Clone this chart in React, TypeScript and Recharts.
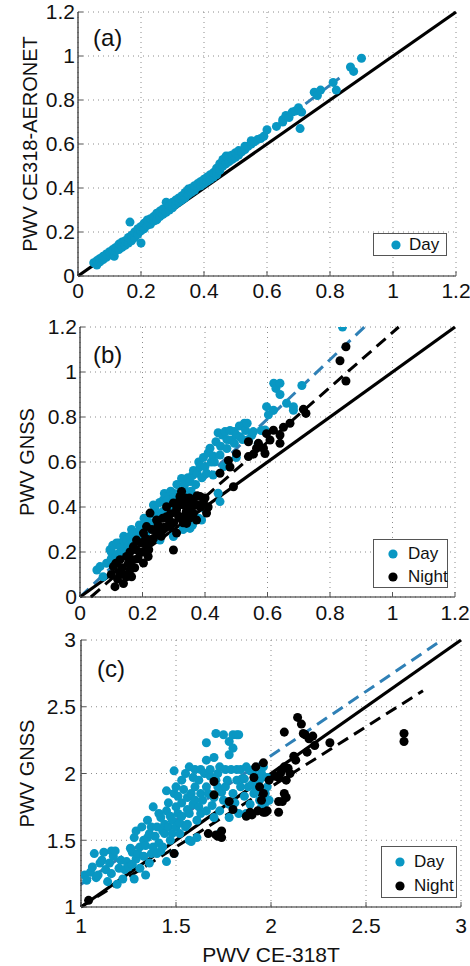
import {
  ScatterChart,
  Scatter,
  XAxis,
  YAxis,
  ZAxis,
  CartesianGrid,
  ReferenceLine,
  Legend
} from 'recharts';

type Pt = [number, number];

const FONT = '"Liberation Sans", Arial, Helvetica, sans-serif';
const DAY_COLOR = '#0997c3';
const DAY_FIT = '#2f80b6';
const AXIS = '#262626';
const INK = '#111';

const ticksAB = [0, 0.2, 0.4, 0.6, 0.8, 1, 1.2];
const ticksC = [1, 1.5, 2, 2.5, 3];

// (a) CE318 vs AERONET, day only
const dayA: Pt[] = [
  [0.05, 0.06], [0.06, 0.05], [0.06, 0.07], [0.07, 0.065], [0.07, 0.08], [0.08, 0.075], [0.08, 0.09],
  [0.09, 0.085], [0.09, 0.1], [0.1, 0.095], [0.1, 0.11], [0.11, 0.1], [0.11, 0.12], [0.115, 0.09],
  [0.12, 0.115], [0.12, 0.13], [0.13, 0.12], [0.13, 0.145], [0.14, 0.13], [0.14, 0.155], [0.15, 0.14],
  [0.15, 0.16], [0.16, 0.15], [0.16, 0.175], [0.165, 0.245], [0.17, 0.16], [0.17, 0.185], [0.18, 0.175],
  [0.18, 0.2], [0.19, 0.19], [0.19, 0.215], [0.2, 0.15], [0.2, 0.205], [0.2, 0.225], [0.21, 0.215],
  [0.21, 0.24], [0.22, 0.23], [0.22, 0.255], [0.23, 0.235], [0.23, 0.26], [0.24, 0.25], [0.24, 0.27],
  [0.25, 0.255], [0.25, 0.285], [0.26, 0.27], [0.26, 0.295], [0.27, 0.28], [0.27, 0.305], [0.28, 0.29],
  [0.28, 0.335], [0.29, 0.3], [0.29, 0.32], [0.3, 0.31], [0.3, 0.335], [0.31, 0.325], [0.31, 0.345],
  [0.32, 0.335], [0.32, 0.355], [0.33, 0.345], [0.33, 0.365], [0.34, 0.355], [0.34, 0.38], [0.35, 0.37],
  [0.35, 0.395], [0.36, 0.38], [0.36, 0.4], [0.37, 0.39], [0.37, 0.41], [0.38, 0.405], [0.38, 0.42],
  [0.39, 0.41], [0.39, 0.43], [0.4, 0.42], [0.4, 0.44], [0.41, 0.43], [0.41, 0.45], [0.42, 0.44],
  [0.42, 0.46], [0.43, 0.45], [0.43, 0.47], [0.44, 0.46], [0.44, 0.49], [0.45, 0.48], [0.45, 0.51],
  [0.46, 0.5], [0.46, 0.53], [0.47, 0.51], [0.47, 0.545], [0.48, 0.52], [0.48, 0.545], [0.49, 0.53],
  [0.49, 0.55], [0.5, 0.54], [0.5, 0.56], [0.51, 0.55], [0.51, 0.57], [0.52, 0.565], [0.53, 0.575],
  [0.53, 0.59], [0.54, 0.59], [0.55, 0.6], [0.55, 0.615], [0.56, 0.61], [0.57, 0.62], [0.58, 0.625],
  [0.59, 0.635], [0.6, 0.665], [0.63, 0.68], [0.65, 0.7], [0.65, 0.71], [0.66, 0.73], [0.67, 0.72],
  [0.68, 0.745], [0.69, 0.75], [0.7, 0.765], [0.71, 0.745], [0.705, 0.67], [0.75, 0.835], [0.76, 0.82],
  [0.77, 0.845], [0.81, 0.88], [0.82, 0.845], [0.865, 0.95], [0.875, 0.93], [0.9, 0.99]
];
const fitDayA: Pt[] = [[0.05, 0.05], [0.83, 0.9]];
const diagAB: Pt[] = [[0, 0], [1.2, 1.2]];

// (b) CE318 vs GNSS
const dayB: Pt[] = [
  [0.054, 0.12], [0.064, 0.135], [0.074, 0.09], [0.085, 0.15], [0.096, 0.21], [0.1, 0.17], [0.1, 0.2],
  [0.105, 0.23], [0.11, 0.23], [0.115, 0.18], [0.117, 0.24], [0.12, 0.19], [0.125, 0.24], [0.13, 0.22],
  [0.135, 0.2], [0.14, 0.25], [0.14, 0.27], [0.149, 0.253], [0.15, 0.2], [0.155, 0.23], [0.16, 0.27],
  [0.165, 0.3], [0.17, 0.25], [0.171, 0.284], [0.18, 0.25], [0.185, 0.29], [0.19, 0.32], [0.192, 0.298],
  [0.2, 0.27], [0.2, 0.31], [0.205, 0.35], [0.21, 0.28], [0.213, 0.342], [0.22, 0.3], [0.225, 0.33],
  [0.23, 0.37], [0.235, 0.409], [0.24, 0.33], [0.24, 0.4], [0.245, 0.371], [0.25, 0.35], [0.255, 0.42],
  [0.256, 0.253], [0.26, 0.36], [0.265, 0.38], [0.267, 0.432], [0.27, 0.46], [0.277, 0.447], [0.28, 0.39],
  [0.28, 0.43], [0.288, 0.401], [0.29, 0.47], [0.299, 0.461], [0.299, 0.269], [0.3, 0.44], [0.31, 0.42],
  [0.31, 0.5], [0.315, 0.46], [0.32, 0.41], [0.325, 0.527], [0.33, 0.47], [0.33, 0.3], [0.335, 0.5],
  [0.341, 0.469], [0.345, 0.53], [0.349, 0.342], [0.352, 0.513], [0.352, 0.305], [0.355, 0.47], [0.36, 0.54],
  [0.36, 0.32], [0.363, 0.562], [0.37, 0.5], [0.375, 0.55], [0.38, 0.6], [0.38, 0.35], [0.384, 0.579],
  [0.389, 0.342], [0.39, 0.53], [0.395, 0.62], [0.4, 0.58], [0.4, 0.39], [0.405, 0.55], [0.41, 0.64],
  [0.416, 0.661], [0.42, 0.6], [0.426, 0.627], [0.426, 0.542], [0.43, 0.6], [0.435, 0.69], [0.442, 0.461],
  [0.442, 0.73], [0.448, 0.631], [0.448, 0.424], [0.45, 0.67], [0.455, 0.72], [0.46, 0.58], [0.464, 0.735],
  [0.47, 0.66], [0.47, 0.7], [0.48, 0.74], [0.483, 0.698], [0.494, 0.735], [0.494, 0.683], [0.5, 0.62],
  [0.5, 0.72], [0.51, 0.76], [0.512, 0.712], [0.52, 0.7], [0.526, 0.772], [0.53, 0.74], [0.535, 0.772],
  [0.54, 0.7], [0.55, 0.72], [0.555, 0.735], [0.57, 0.68], [0.58, 0.74], [0.592, 0.742], [0.597, 0.846],
  [0.603, 0.81], [0.619, 0.83], [0.62, 0.95], [0.627, 0.927], [0.64, 0.95], [0.64, 0.9], [0.661, 0.861],
  [0.683, 0.846], [0.683, 0.83], [0.71, 0.94], [0.84, 1.2]
];
const nightB: Pt[] = [
  [0.1, 0.1], [0.107, 0.135], [0.112, 0.046], [0.115, 0.15], [0.12, 0.08], [0.128, 0.105], [0.128, 0.166],
  [0.135, 0.13], [0.139, 0.06], [0.14, 0.1], [0.149, 0.09], [0.149, 0.18], [0.155, 0.15], [0.16, 0.12],
  [0.16, 0.2], [0.165, 0.09], [0.171, 0.166], [0.171, 0.224], [0.175, 0.13], [0.18, 0.21], [0.181, 0.253],
  [0.185, 0.17], [0.192, 0.196], [0.195, 0.24], [0.2, 0.2], [0.203, 0.151], [0.203, 0.284], [0.21, 0.26],
  [0.213, 0.224], [0.213, 0.313], [0.218, 0.18], [0.22, 0.21], [0.224, 0.253], [0.224, 0.373], [0.23, 0.3],
  [0.235, 0.26], [0.245, 0.284], [0.245, 0.342], [0.25, 0.32], [0.256, 0.298], [0.26, 0.27], [0.265, 0.35],
  [0.27, 0.31], [0.277, 0.357], [0.277, 0.401], [0.285, 0.34], [0.288, 0.313], [0.29, 0.37], [0.299, 0.209],
  [0.299, 0.418], [0.3, 0.33], [0.309, 0.284], [0.309, 0.387], [0.31, 0.4], [0.315, 0.36], [0.32, 0.432],
  [0.32, 0.447], [0.325, 0.469], [0.33, 0.41], [0.33, 0.33], [0.331, 0.357], [0.336, 0.44], [0.34, 0.38],
  [0.341, 0.327], [0.341, 0.418], [0.35, 0.44], [0.35, 0.35], [0.355, 0.4], [0.363, 0.373], [0.363, 0.432],
  [0.37, 0.41], [0.373, 0.342], [0.375, 0.45], [0.384, 0.447], [0.385, 0.4], [0.395, 0.418], [0.4, 0.44],
  [0.405, 0.373], [0.41, 0.4], [0.448, 0.55], [0.475, 0.607], [0.48, 0.578], [0.491, 0.49], [0.501, 0.637],
  [0.539, 0.69], [0.539, 0.624], [0.555, 0.635], [0.565, 0.661], [0.571, 0.683], [0.587, 0.661], [0.592, 0.638],
  [0.597, 0.726], [0.608, 0.698], [0.619, 0.741], [0.64, 0.72], [0.64, 0.683], [0.651, 0.754], [0.672, 0.772],
  [0.715, 0.834], [0.723, 0.816], [0.832, 1.05], [0.851, 1.112], [0.851, 0.96]
];
const fitDayB: Pt[] = [[0, 0], [0.91, 1.2]];
const fitNightB: Pt[] = [[0.035, 0], [1.02, 1.2]];

// (c) CE-318T vs GNSS
const dayC: Pt[] = [
  [1.02, 1.24], [1.03, 1.2], [1.05, 1.26], [1.06, 1.3], [1.07, 1.4], [1.08, 1.22], [1.09, 1.24], [1.1, 1.33],
  [1.11, 1.35], [1.12, 1.41], [1.13, 1.28], [1.14, 1.19], [1.15, 1.33], [1.16, 1.25], [1.16, 1.42], [1.17, 1.38],
  [1.18, 1.42], [1.19, 1.17], [1.2, 1.29], [1.21, 1.35], [1.22, 1.21], [1.23, 1.28], [1.24, 1.34], [1.25, 1.3],
  [1.26, 1.44], [1.27, 1.41], [1.27, 1.32], [1.28, 1.21], [1.28, 1.52], [1.29, 1.36], [1.29, 1.57], [1.3, 1.4],
  [1.31, 1.29], [1.31, 1.45], [1.32, 1.6], [1.33, 1.5], [1.33, 1.38], [1.34, 1.24], [1.34, 1.46], [1.35, 1.65],
  [1.35, 1.52], [1.36, 1.55], [1.36, 1.33], [1.37, 1.6], [1.37, 1.4], [1.38, 1.45], [1.38, 1.75], [1.39, 1.53],
  [1.4, 1.4], [1.4, 1.6], [1.41, 1.48], [1.41, 1.7], [1.42, 1.42], [1.42, 1.67], [1.43, 1.57], [1.43, 1.45],
  [1.44, 1.62], [1.44, 1.55], [1.45, 1.34], [1.45, 1.72], [1.45, 1.87], [1.46, 1.6], [1.46, 1.78], [1.47, 1.5],
  [1.47, 1.68], [1.48, 1.65], [1.48, 1.55], [1.49, 1.4], [1.49, 1.85], [1.49, 2.02], [1.5, 1.75], [1.5, 1.9],
  [1.5, 1.6], [1.51, 1.7], [1.51, 1.83], [1.52, 1.63], [1.52, 1.55], [1.53, 1.95], [1.53, 1.78], [1.53, 1.68],
  [1.54, 1.88], [1.55, 2.0], [1.55, 1.6], [1.56, 1.73], [1.56, 1.82], [1.56, 1.62], [1.57, 2.05], [1.57, 1.5],
  [1.57, 1.7], [1.58, 1.49], [1.58, 1.85], [1.59, 1.97], [1.59, 1.77], [1.6, 1.8], [1.6, 1.9], [1.6, 2.03],
  [1.61, 1.52], [1.61, 1.65], [1.62, 1.95], [1.62, 1.75], [1.63, 1.85], [1.63, 2.03], [1.63, 1.7], [1.64, 1.8],
  [1.65, 2.0], [1.66, 2.1], [1.66, 2.23], [1.66, 1.9], [1.66, 1.72], [1.67, 1.85], [1.68, 1.98], [1.68, 2.03],
  [1.69, 1.76], [1.7, 2.12], [1.7, 1.82], [1.7, 1.67], [1.71, 2.3], [1.71, 1.95], [1.72, 1.9], [1.72, 2.0],
  [1.73, 2.05], [1.73, 1.72], [1.73, 1.55], [1.74, 1.86], [1.75, 2.29], [1.75, 1.8], [1.76, 2.03], [1.76, 1.9],
  [1.77, 1.95], [1.78, 2.24], [1.78, 2.14], [1.78, 1.67], [1.78, 1.77], [1.79, 2.03], [1.8, 2.29], [1.8, 2.19],
  [1.8, 1.85], [1.81, 1.78], [1.82, 2.29], [1.82, 2.03], [1.82, 1.95], [1.83, 2.29], [1.83, 1.7], [1.84, 1.9],
  [1.84, 2.03], [1.85, 1.96], [1.86, 1.83], [1.86, 1.96], [1.87, 2.05], [1.87, 1.7], [1.88, 1.9], [1.89, 1.77],
  [1.89, 2.02], [1.9, 1.92], [1.91, 2.03], [1.91, 1.85], [1.92, 1.87], [1.93, 1.97], [1.94, 1.95], [1.94, 1.8],
  [1.95, 1.75], [1.95, 2.0], [1.96, 2.05], [1.97, 1.85], [1.97, 1.78], [1.98, 1.97], [1.98, 1.9], [1.99, 1.8]
];
const nightC: Pt[] = [
  [1.04, 1.05], [1.49, 1.4], [1.67, 1.55], [1.7, 1.94], [1.7, 1.84], [1.71, 1.54], [1.72, 1.53], [1.74, 1.57],
  [1.74, 1.52], [1.78, 1.79], [1.8, 1.73], [1.87, 1.68], [1.89, 1.71], [1.9, 1.69], [1.91, 1.97], [1.92, 2.05],
  [1.93, 1.72], [1.94, 1.9], [1.95, 1.8], [1.96, 1.71], [1.96, 1.85], [1.96, 2.08], [1.97, 1.71], [1.98, 1.72],
  [1.99, 1.95], [2.02, 1.98], [2.04, 1.97], [2.04, 1.79], [2.04, 1.71], [2.05, 2.0], [2.06, 2.03], [2.06, 1.79],
  [2.07, 2.31], [2.07, 2.05], [2.07, 1.85], [2.08, 1.95], [2.08, 1.82], [2.09, 2.04], [2.1, 2.0], [2.12, 2.13],
  [2.13, 2.1], [2.14, 2.42], [2.16, 2.37], [2.17, 2.3], [2.18, 2.29], [2.19, 2.16], [2.2, 2.26], [2.22, 2.28],
  [2.23, 2.21], [2.31, 2.23], [2.7, 2.3], [2.7, 2.24]
];
const fitDayC: Pt[] = [[1.0, 1.17], [2.9, 3.0]];
const fitNightC: Pt[] = [[1.0, 1.0], [2.8, 2.62]];
const diagC: Pt[] = [[1, 1], [3, 3]];

const pts = (p: Pt[]) => p.map(([x, y]) => ({ x, y }));

function LegendBox({ payload, w, h, markX, textX, rows }: any) {
  return (
    <div
      style={{
        width: w,
        height: h,
        boxSizing: 'border-box',
        border: '1px solid #555',
        background: '#fff',
        position: 'relative',
        fontFamily: FONT,
        fontSize: 17,
        color: INK
      }}
    >
      {(payload || []).map((e: any, i: number) => (
        <div key={i} style={{ position: 'absolute', left: 0, top: rows[i] - 11, height: 22, width: w }}>
          <svg width={12} height={12} style={{ position: 'absolute', left: markX - 6, top: 5 }}>
            <circle cx={6} cy={6} r={4.6} fill={e.color} />
          </svg>
          <span style={{ position: 'absolute', left: textX, top: 1, lineHeight: '20px' }}>{e.value}</span>
        </div>
      ))}
    </div>
  );
}

function Panel(p: any) {
  const {
    top, height, plotTop, plotLeft, plotRight, xh, domain, ticks, yTickGap, xTickGap,
    yTitle, yTitleX, xTitle, tag, tagLeft, tagTop, day, night, fitDay, fitNight, diag, legend
  } = p;

  const seg = (s: Pt[]) => s.map(([x, y]) => ({ x, y }));
  const tickStyle = { fill: INK, fontSize: 21, fontFamily: FONT };

  return (
    <div style={{ position: 'absolute', left: 0, top, width: 470, height }}>
      <ScatterChart
        width={470}
        height={height}
        margin={{ top: plotTop, right: 470 - plotRight, bottom: 0, left: 0 }}
      >
        <CartesianGrid stroke="#8c8c8c" strokeDasharray="1 4" />
        <XAxis
          type="number"
          dataKey="x"
          domain={domain}
          ticks={ticks}
          interval={0}
          height={xh}
          allowDataOverflow
          tickSize={-5}
          tickMargin={xTickGap}
          axisLine={{ stroke: AXIS, strokeWidth: 1.2 }}
          tickLine={{ stroke: '#555' }}
          tick={tickStyle}
          label={
            xTitle
              ? (lp: any) => {
                  const vb = lp.viewBox;
                  return (
                    <text
                      x={vb.x + vb.width / 2}
                      y={vb.y + 55}
                      textAnchor="middle"
                      fontSize={21}
                      fontFamily={FONT}
                      fill={INK}
                    >
                      {xTitle}
                    </text>
                  );
                }
              : undefined
          }
        />
        <XAxis
          xAxisId="top"
          orientation="top"
          type="number"
          domain={domain}
          ticks={ticks}
          interval={0}
          height={0}
          allowDataOverflow
          tickSize={-5}
          tickFormatter={() => ''}
          axisLine={{ stroke: AXIS, strokeWidth: 1.2 }}
          tickLine={{ stroke: '#555' }}
        />
        <YAxis
          type="number"
          dataKey="y"
          domain={domain}
          ticks={ticks}
          interval={0}
          width={plotLeft}
          allowDataOverflow
          tickSize={-5}
          tickMargin={yTickGap}
          axisLine={{ stroke: AXIS, strokeWidth: 1.2 }}
          tickLine={{ stroke: '#555' }}
          tick={tickStyle}
          label={(lp: any) => {
            const vb = lp.viewBox;
            const cy = vb.y + vb.height / 2;
            return (
              <text
                x={yTitleX}
                y={cy}
                transform={`rotate(-90 ${yTitleX} ${cy})`}
                textAnchor="middle"
                dominantBaseline="central"
                fontSize={20}
                fontFamily={FONT}
                fill={INK}
              >
                {yTitle}
              </text>
            );
          }}
        />
        <YAxis
          yAxisId="right"
          orientation="right"
          type="number"
          domain={domain}
          ticks={ticks}
          interval={0}
          width={0}
          allowDataOverflow
          tickSize={-5}
          tickFormatter={() => ''}
          axisLine={{ stroke: AXIS, strokeWidth: 1.2 }}
          tickLine={{ stroke: '#555' }}
        />
        <ZAxis type="number" range={[78, 78]} />
        <Scatter name="Day" data={pts(day)} fill={DAY_COLOR} isAnimationActive={false} />
        {night && <Scatter name="Night" data={pts(night)} fill="#000" isAnimationActive={false} />}
        <ReferenceLine
          segment={seg(fitDay)}
          stroke={DAY_FIT}
          strokeWidth={3}
          strokeDasharray="12 7"
          ifOverflow="visible"
        />
        {fitNight && (
          <ReferenceLine
            segment={seg(fitNight)}
            stroke="#000"
            strokeWidth={3}
            strokeDasharray="12 7"
            ifOverflow="visible"
          />
        )}
        <ReferenceLine segment={seg(diag)} stroke="#000" strokeWidth={3.2} ifOverflow="visible" />
        <Legend
          layout="horizontal"
          verticalAlign="middle"
          align="center"
          wrapperStyle={{ left: legend.left, top: legend.top, width: legend.w, height: legend.h }}
          content={(lp: any) => (
            <LegendBox
              payload={lp.payload}
              w={legend.w}
              h={legend.h}
              markX={legend.markX}
              textX={legend.textX}
              rows={legend.rows}
            />
          )}
        />
      </ScatterChart>
      <div
        style={{
          position: 'absolute',
          left: tagLeft,
          top: tagTop,
          fontFamily: FONT,
          fontSize: 24,
          lineHeight: '24px',
          color: INK
        }}
      >
        {tag}
      </div>
    </div>
  );
}

export default function App() {
  return (
    <div style={{ position: 'absolute', left: 0, top: 0, width: 470, height: 966, background: '#fff' }}>
      <Panel
        top={0}
        height={310}
        plotTop={12}
        plotLeft={78}
        plotRight={456}
        xh={34}
        domain={[0, 1.2]}
        ticks={ticksAB}
        yTickGap={8}
        xTickGap={12}
        yTitle="PWV  CE318-AERONET"
        yTitleX={30}
        tag="(a)"
        tagLeft={93}
        tagTop={26}
        day={dayA}
        fitDay={fitDayA}
        diag={diagAB}
        legend={{ left: 373, top: 233, w: 74, h: 23, markX: 22, textX: 35, rows: [11] }}
      />
      <Panel
        top={310}
        height={321}
        plotTop={17}
        plotLeft={80}
        plotRight={455}
        xh={34}
        domain={[0, 1.2]}
        ticks={ticksAB}
        yTickGap={8}
        xTickGap={13}
        yTitle="PWV GNSS"
        yTitleX={27}
        tag="(b)"
        tagLeft={93}
        tagTop={33}
        day={dayB}
        night={nightB}
        fitDay={fitDayB}
        fitNight={fitNightB}
        diag={diagAB}
        legend={{ left: 373, top: 229, w: 75, h: 49, markX: 19, textX: 34, rows: [14, 37] }}
      />
      <Panel
        top={620}
        height={346}
        plotTop={20}
        plotLeft={81}
        plotRight={461}
        xh={59}
        domain={[1, 3]}
        ticks={ticksC}
        yTickGap={10}
        xTickGap={16}
        yTitle="PWV GNSS"
        yTitleX={27}
        xTitle="PWV CE-318T"
        tag="(c)"
        tagLeft={97}
        tagTop={37}
        day={dayC}
        night={nightC}
        fitDay={fitDayC}
        fitNight={fitNightC}
        diag={diagC}
        legend={{ left: 381, top: 226, w: 76, h: 52, markX: 18, textX: 32, rows: [15, 39] }}
      />
    </div>
  );
}
